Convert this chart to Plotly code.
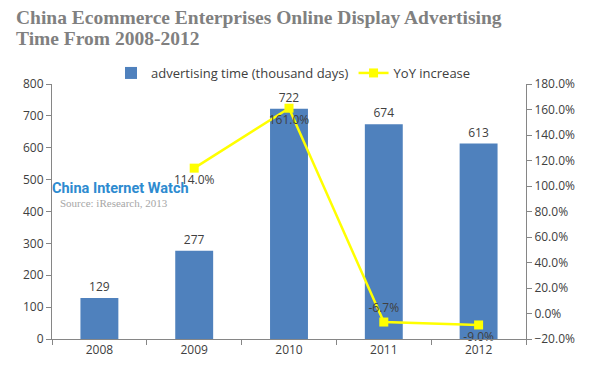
import plotly.graph_objects as go

years = ["2008", "2009", "2010", "2011", "2012"]
ad_time = [129, 277, 722, 674, 613]
yoy_years = ["2009", "2010", "2011", "2012"]
yoy = [114.0, 161.0, -6.7, -9.0]
yoy_labels = ["114.0%", "161.0%", "-6.7%", "-9.0%"]

W, H = 600, 370
ML, MR, MT, MB = 52, 74, 84, 31
PW, PH = W - ML - MR, H - MT - MB

axis_font = dict(family="Open Sans, DejaVu Sans, sans-serif", size=12, color="#404040")
legend_font = dict(family="Open Sans, DejaVu Sans, sans-serif", size=13, color="#404040")

def px_x(x):
    return (x - ML) / PW

def px_y(y):
    return (H - MB - y) / PH

fig = go.Figure()
fig.add_trace(go.Bar(
    x=years, y=ad_time, name="advertising time (thousand days)",
    marker=dict(color="#4F81BD", line=dict(width=0)),
    text=[str(v) for v in ad_time], textposition="outside",
    textfont=axis_font, cliponaxis=False,
))
fig.add_trace(go.Scatter(
    x=yoy_years, y=yoy, name="YoY increase", yaxis="y2",
    mode="lines+markers+text",
    line=dict(color="#FFFF00", width=2.5),
    marker=dict(color="#FFFF00", symbol="square", size=9),
    text=yoy_labels,
    textposition=["bottom center", "bottom center", "top center", "bottom center"],
    textfont=axis_font, cliponaxis=False,
))

fig.update_layout(
    width=W, height=H,
    margin=dict(l=ML, r=MR, t=MT, b=MB),
    paper_bgcolor="white", plot_bgcolor="white",
    bargap=0.6,
    showlegend=True,
    legend=dict(orientation="h", x=px_x(111), xanchor="left", y=px_y(73), yanchor="middle",
                font=legend_font, itemwidth=30, tracegroupgap=0),
    xaxis=dict(type="category", showline=True, linecolor="#868686", linewidth=1,
               ticks="outside", ticklen=5, tickcolor="#868686", tickson="boundaries",
               tickfont=axis_font, showgrid=False, zeroline=False),
    yaxis=dict(range=[0, 800], dtick=100, showline=True, linecolor="#868686",
               ticks="outside", ticklen=5, tickcolor="#868686", tickfont=axis_font,
               showgrid=False, zeroline=False),
    yaxis2=dict(range=[-20, 180], dtick=20, overlaying="y", side="right",
                tickformat=".1f", ticksuffix="%", showline=True, linecolor="#868686",
                ticks="outside", ticklen=5, tickcolor="#868686", tickfont=axis_font,
                showgrid=False, zeroline=False),
    font=axis_font,
)

title_font = dict(family="Liberation Serif, DejaVu Serif, serif", size=19.5, color="#808080")
fig.add_annotation(
    text="<b>China Ecommerce Enterprises Online Display Advertising</b>",
    xref="paper", yref="paper", x=px_x(14), y=px_y(17), xanchor="left", yanchor="middle",
    showarrow=False, font=title_font,
)
fig.add_annotation(
    text="<b>Time From 2008-2012</b>",
    xref="paper", yref="paper", x=px_x(14), y=px_y(39), xanchor="left", yanchor="middle",
    showarrow=False, font=title_font,
)
fig.add_annotation(
    text="<b>China Internet Watch</b>", xref="paper", yref="paper",
    x=px_x(50), y=px_y(188), xanchor="left", yanchor="middle", showarrow=False,
    font=dict(family="Roboto, sans-serif", size=14.5, color="#2E8BD0"),
)
fig.add_annotation(
    text="Source: iResearch, 2013", xref="paper", yref="paper",
    x=px_x(58), y=px_y(203), xanchor="left", yanchor="middle", showarrow=False,
    font=dict(family="Liberation Serif, serif", size=11, color="#A6A6A6"),
)

fig.write_html("out.html", config={"displayModeBar": False},
               post_script="document.body.style.margin='0';")
